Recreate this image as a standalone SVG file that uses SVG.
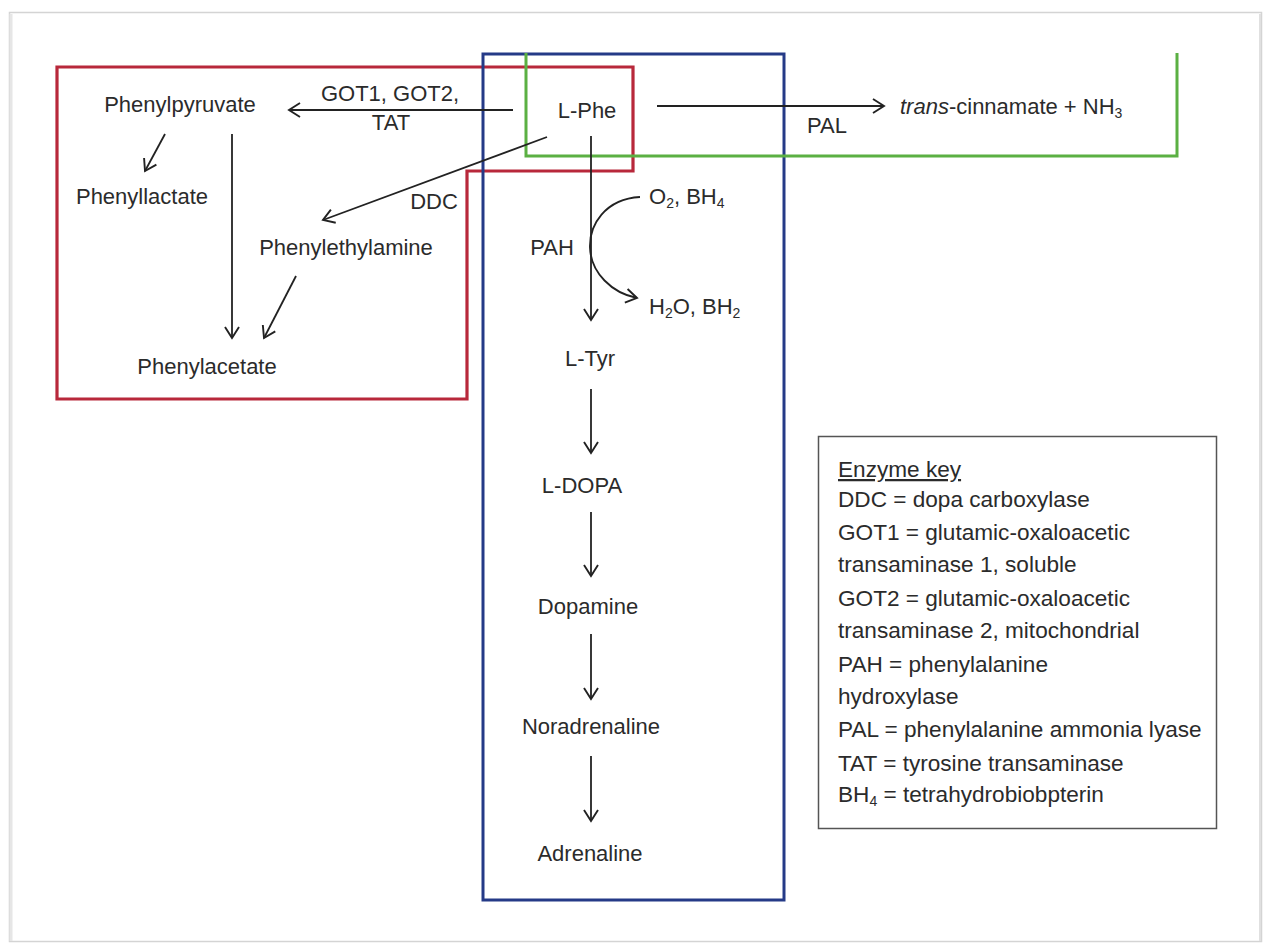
<svg xmlns="http://www.w3.org/2000/svg" width="1264" height="943" viewBox="0 0 1264 943">
<defs>
<marker id="arr" markerUnits="userSpaceOnUse" markerWidth="18" markerHeight="18" viewBox="0 0 18 18" refX="14" refY="9" orient="auto">
<path d="M3,2 L14,9 L3,16" fill="none" stroke="#222" stroke-width="1.9"/>
</marker>
</defs>
<style>
text{font-family:"Liberation Sans",Arial,sans-serif;font-size:22px;fill:#2b2b2b}
.lg{font-size:22.6px}
.ln{fill:none;stroke:#222;stroke-width:1.8}
.sub{font-size:14px}
</style>
<rect x="0" y="0" width="1264" height="943" fill="#ffffff"/>
<g id="frame">
<rect x="9.5" y="12.5" width="1252" height="929" fill="#ffffff" stroke="#d4d4d4" stroke-width="1.5"/>
<line x1="11" y1="14" x2="11" y2="941" stroke="#e6e6e6" stroke-width="3"/>
<line x1="1260" y1="14" x2="1260" y2="941" stroke="#e0e0e0" stroke-width="2"/>
</g>
<g id="regions">
<path id="red-region" d="M57,67 H633 V171 H467 V399 H57 Z" fill="none" stroke="#b8283b" stroke-width="3.2"/>
<rect id="blue-region" x="483" y="54" width="301" height="846" fill="none" stroke="#253a87" stroke-width="3"/>
<path id="green-region" d="M526,53 V156 H1177 V53" fill="none" stroke="#5bb043" stroke-width="3"/>
</g>
<g id="connectors">
<line class="ln" x1="513" y1="110" x2="289" y2="110" marker-end="url(#arr)"/>
<line class="ln" x1="657" y1="106" x2="884" y2="106" marker-end="url(#arr)"/>
<line class="ln" x1="547" y1="137" x2="323" y2="220" marker-end="url(#arr)"/>
<line class="ln" x1="165" y1="134" x2="145" y2="171" marker-end="url(#arr)"/>
<line class="ln" x1="232" y1="134" x2="232" y2="338" marker-end="url(#arr)"/>
<line class="ln" x1="296" y1="276" x2="264" y2="338" marker-end="url(#arr)"/>
<line class="ln" x1="591" y1="136" x2="591" y2="320" marker-end="url(#arr)"/>
<path class="ln" d="M640,197 C605,199 589,225 590,248 C591,273 612,293 637,298" marker-end="url(#arr)"/>
<line class="ln" x1="591" y1="389" x2="591" y2="453" marker-end="url(#arr)"/>
<line class="ln" x1="591" y1="512" x2="591" y2="576" marker-end="url(#arr)"/>
<line class="ln" x1="591" y1="634" x2="591" y2="699" marker-end="url(#arr)"/>
<line class="ln" x1="591" y1="756" x2="591" y2="821" marker-end="url(#arr)"/>
</g>
<g id="labels">
<text x="390" y="101" text-anchor="middle">GOT1, GOT2,</text>
<text x="391" y="130" text-anchor="middle">TAT</text>
<text x="827" y="133" text-anchor="middle">PAL</text>
<text x="434" y="209" text-anchor="middle">DDC</text>
<text x="552" y="255" text-anchor="middle">PAH</text>
<text x="649" y="204">O<tspan class="sub" dy="4">2</tspan><tspan dy="-4">, BH</tspan><tspan class="sub" dy="4">4</tspan></text>
<text x="649" y="314">H<tspan class="sub" dy="4">2</tspan><tspan dy="-4">O, BH</tspan><tspan class="sub" dy="4">2</tspan></text>
</g>
<g id="node-lphe"><text x="587" y="118" text-anchor="middle">L-Phe</text></g>
<g id="node-cinnamate"><text x="900" y="114"><tspan font-style="italic">trans</tspan>-cinnamate + NH<tspan class="sub" dy="4">3</tspan></text></g>
<g id="node-phenylpyruvate"><text x="180" y="112" text-anchor="middle">Phenylpyruvate</text></g>
<g id="node-phenyllactate"><text x="142" y="204" text-anchor="middle">Phenyllactate</text></g>
<g id="node-phenylethylamine"><text x="346" y="255" text-anchor="middle">Phenylethylamine</text></g>
<g id="node-phenylacetate"><text x="207" y="374" text-anchor="middle">Phenylacetate</text></g>
<g id="node-ltyr"><text x="590" y="366" text-anchor="middle">L-Tyr</text></g>
<g id="node-ldopa"><text x="582" y="493" text-anchor="middle">L-DOPA</text></g>
<g id="node-dopamine"><text x="588" y="614" text-anchor="middle">Dopamine</text></g>
<g id="node-noradrenaline"><text x="591" y="734" text-anchor="middle">Noradrenaline</text></g>
<g id="node-adrenaline"><text x="590" y="861" text-anchor="middle">Adrenaline</text></g>
<g id="legend">
<rect x="818.5" y="436.5" width="398" height="392" fill="none" stroke="#555" stroke-width="1.5"/>
<text class="lg" x="838" y="477" text-decoration="underline">Enzyme key</text>
<text class="lg" x="838" y="507">DDC = dopa carboxylase</text>
<text class="lg" x="838" y="540">GOT1 = glutamic-oxaloacetic</text>
<text class="lg" x="838" y="572">transaminase 1, soluble</text>
<text class="lg" x="838" y="606">GOT2 = glutamic-oxaloacetic</text>
<text class="lg" x="838" y="638">transaminase 2, mitochondrial</text>
<text class="lg" x="838" y="672">PAH = phenylalanine</text>
<text class="lg" x="838" y="704">hydroxylase</text>
<text class="lg" x="838" y="737">PAL = phenylalanine ammonia lyase</text>
<text class="lg" x="838" y="771">TAT = tyrosine transaminase</text>
<text class="lg" x="838" y="802">BH<tspan class="sub" dy="4">4</tspan><tspan dy="-4"> = tetrahydrobiobpterin</tspan></text>
</g>
</svg>
